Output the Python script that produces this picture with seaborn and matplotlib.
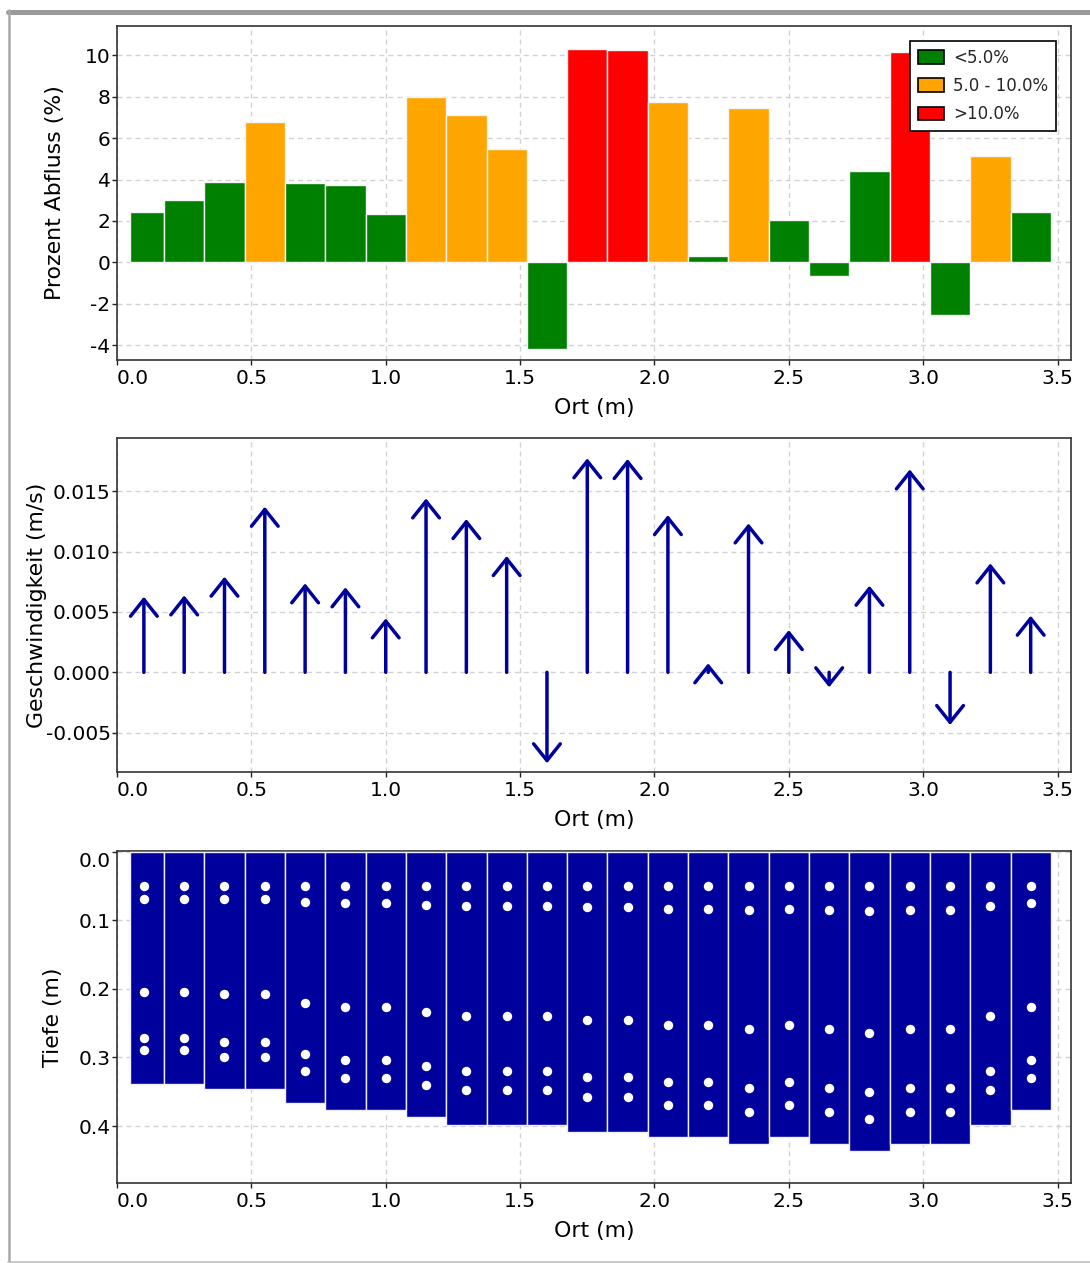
import numpy as np
import pandas as pd
import matplotlib
matplotlib.use("Agg")
import matplotlib.pyplot as plt
from matplotlib.patches import Patch
from matplotlib.lines import Line2D
from matplotlib.ticker import FormatStrFormatter
import seaborn as sns

# ---------------- data ----------------
stations = [0.10, 0.25, 0.40, 0.55, 0.70, 0.85, 1.00, 1.15, 1.30, 1.45, 1.60, 1.75,
            1.90, 2.05, 2.20, 2.35, 2.50, 2.65, 2.80, 2.95, 3.10, 3.25, 3.40]
bank_left = 0.05
bank_right = 3.475

prozent = [2.45, 3.00, 3.88, 6.76, 3.82, 3.75, 2.32, 8.00, 7.10, 5.46, -4.20, 10.32,
           10.26, 7.73, 0.32, 7.44, 2.03, -0.64, 4.43, 10.18, -2.56, 5.12, 2.45]

velocity = [0.00626, 0.00637, 0.00792, 0.01371, 0.00737, 0.00704, 0.00447, 0.01440,
            0.01269, 0.00963, -0.00753, 0.01772, 0.01766, 0.01302, 0.00075, 0.01233,
            0.00350, -0.00124, 0.00717, 0.01680, -0.00436, 0.00902, 0.00469]

depth = [0.338, 0.338, 0.346, 0.346, 0.367, 0.377, 0.377, 0.387, 0.398, 0.398, 0.398,
         0.408, 0.408, 0.416, 0.416, 0.426, 0.416, 0.426, 0.436, 0.426, 0.426, 0.398, 0.377]

dot1 = [0.050, 0.050, 0.050, 0.050, 0.050, 0.050, 0.050, 0.050, 0.050, 0.050, 0.050, 0.050,
        0.050, 0.050, 0.050, 0.050, 0.050, 0.050, 0.050, 0.050, 0.050, 0.050, 0.050]
dot2 = [0.069, 0.069, 0.069, 0.069, 0.073, 0.075, 0.075, 0.077, 0.079, 0.079, 0.079, 0.081,
        0.081, 0.083, 0.083, 0.085, 0.083, 0.085, 0.087, 0.085, 0.085, 0.079, 0.075]
dot3 = [0.204, 0.204, 0.208, 0.208, 0.221, 0.227, 0.227, 0.233, 0.239, 0.239, 0.239, 0.245,
        0.245, 0.252, 0.252, 0.258, 0.252, 0.258, 0.264, 0.258, 0.258, 0.239, 0.227]
dot4 = [0.272, 0.272, 0.278, 0.278, 0.295, 0.303, 0.303, 0.312, 0.319, 0.319, 0.319, 0.328,
        0.328, 0.336, 0.336, 0.344, 0.336, 0.344, 0.350, 0.344, 0.344, 0.319, 0.303]
dot5 = [0.289, 0.289, 0.299, 0.299, 0.319, 0.330, 0.330, 0.340, 0.348, 0.348, 0.348, 0.358,
        0.358, 0.369, 0.369, 0.379, 0.369, 0.379, 0.389, 0.379, 0.379, 0.348, 0.330]

cat_labels = ["<5.0%", "5.0 - 10.0%", ">10.0%"]
cat_colors = ["#008000", "#FFA500", "#FF0000"]
cat_limits = [5.0, 10.0]

x_ticks = [0.0, 0.5, 1.0, 1.5, 2.0, 2.5, 3.0, 3.5]
y_ticks_top = [-4, -2, 0, 2, 4, 6, 8, 10]
y_ticks_mid = [-0.005, 0.0, 0.005, 0.010, 0.015]
y_ticks_bot = [0.0, 0.1, 0.2, 0.3, 0.4]

blue = "#00009C"

# ---------------- style ----------------
sns.set_theme(style="whitegrid")
plt.rcParams.update({
    "font.family": ["DejaVu Sans"],
    "axes.unicode_minus": False,
    "axes.edgecolor": "#333333",
    "axes.linewidth": 1.2,
    "grid.color": "#d2d2d2",
    "grid.linewidth": 1.0,
    "grid.linestyle": (0, (3.6, 2.9)),
    "xtick.bottom": True,
    "ytick.left": True,
    "xtick.direction": "out",
    "ytick.direction": "out",
    "xtick.major.size": 3.6,
    "ytick.major.size": 3.6,
    "xtick.major.width": 1.0,
    "ytick.major.width": 1.0,
    "xtick.color": "#222222",
    "ytick.color": "#222222",
    "xtick.labelcolor": "black",
    "ytick.labelcolor": "black",
    "xtick.major.pad": 3,
    "ytick.major.pad": 1,
    "font.size": 14.5,
    "axes.labelsize": 15.8,
    "axes.labelcolor": "black",
    "xtick.labelsize": 14.5,
    "ytick.labelsize": 14.5,
})

W, H = 1090, 1263
fig = plt.figure(figsize=(W / 100, H / 100), dpi=100)
fig.patch.set_facecolor("white")


def axes_px(left, top, right, bottom):
    return fig.add_axes([left / W, 1 - bottom / H, (right - left) / W, (bottom - top) / H])


ax1 = axes_px(117, 26, 1071, 360)
ax2 = axes_px(117, 438, 1071, 772)
ax3 = axes_px(117, 851, 1071, 1183)

st = np.array(stations)
edges = np.concatenate([[bank_left], (st[:-1] + st[1:]) / 2, [bank_right]])
widths = np.diff(edges)


def color_for(v):
    if v < cat_limits[0]:
        return cat_colors[0]
    if v <= cat_limits[1]:
        return cat_colors[1]
    return cat_colors[2]


# ---------------- top panel ----------------
bar_cols = [color_for(v) for v in prozent]
ax1.bar(edges[:-1], prozent, width=widths, align="edge", color=bar_cols,
        edgecolor="#f4f4f4", linewidth=1.0, zorder=3)
ax1.set_xlim(0, 3.55)
ax1.set_ylim(-4.72, 11.42)
ax1.set_yticks(y_ticks_top)
ax1.set_ylabel("Prozent Abfluss (%)", va="center")
ax1.yaxis.set_label_coords((55 - 117) / 954, 0.5)
handles = [Patch(facecolor=c, edgecolor="black", linewidth=1.2) for c in cat_colors]
leg = ax1.legend(handles, cat_labels, loc="upper right", fontsize=12, frameon=True,
                 fancybox=False, framealpha=1, edgecolor="black", borderpad=0.45,
                 labelspacing=0.62, handlelength=1.6, handleheight=0.9,
                 handletextpad=0.55, borderaxespad=0.9)
leg.get_frame().set_linewidth(1.2)

# ---------------- middle panel ----------------
for x, v in zip(stations, velocity):
    ax2.annotate("", xy=(x, v), xytext=(x, 0.0),
                 arrowprops=dict(arrowstyle="->,head_length=0.6,head_width=0.48",
                                 color=blue, lw=2.5, shrinkA=0, shrinkB=0,
                                 mutation_scale=20), zorder=3)
ax2.set_xlim(0, 3.55)
ax2.set_ylim(-0.00825, 0.0194)
ax2.set_yticks(y_ticks_mid)
ax2.yaxis.set_major_formatter(FormatStrFormatter("%.3f"))
ax2.set_ylabel("Geschwindigkeit (m/s)", va="center")
ax2.yaxis.set_label_coords((37 - 117) / 954, 0.5)

# ---------------- bottom panel ----------------
ax3.bar(edges[:-1], depth, width=widths, align="edge", bottom=0, color=blue,
        edgecolor="#eeeeff", linewidth=1.0, zorder=3)
dots = pd.DataFrame({
    "Ort": np.tile(stations, 5),
    "Tiefe": dot1 + dot2 + dot3 + dot4 + dot5,
})
sns.scatterplot(data=dots, x="Ort", y="Tiefe", ax=ax3, color="white", s=46,
                linewidth=0, zorder=4, legend=False)
ax3.set_xlim(0, 3.55)
ax3.set_ylim(0.483, -0.001)
ax3.set_yticks(y_ticks_bot)
ax3.yaxis.set_major_formatter(FormatStrFormatter("%.1f"))
ax3.set_ylabel("Tiefe (m)", va="center")
ax3.yaxis.set_label_coords((53 - 117) / 954, 0.5)

for ax in (ax1, ax2, ax3):
    ax.set_xticks(x_ticks)
    ax.xaxis.set_major_formatter(FormatStrFormatter("%.1f"))
    ax.set_xlabel("Ort (m)", va="center")
    ax.xaxis.set_label_coords(0.5, -48 / 334)
    ax.grid(True, which="major")
    for s in ax.spines.values():
        s.set_visible(True)
        s.set_color("#333333")
        s.set_linewidth(1.2)
    ax.get_xticklabels()[0].set_horizontalalignment("left")

ylab0 = ax3.get_yticklabels()[0]
ylab0.set_verticalalignment("top")

# ---------------- window frame ----------------
fig.add_artist(Line2D([8 / W, 1], [1 - 12 / H, 1 - 12 / H], transform=fig.transFigure,
                      color="#9a9a9a", lw=3.6))
fig.add_artist(Line2D([9 / W, 9 / W], [1 - 10 / H, 1.5 / H], transform=fig.transFigure,
                      color="#a8a8a8", lw=1.8))
fig.add_artist(Line2D([8 / W, 1], [1.2 / H, 1.2 / H], transform=fig.transFigure,
                      color="#c0c0c0", lw=1.2))

fig.savefig("out.png", dpi=100, facecolor="white")
